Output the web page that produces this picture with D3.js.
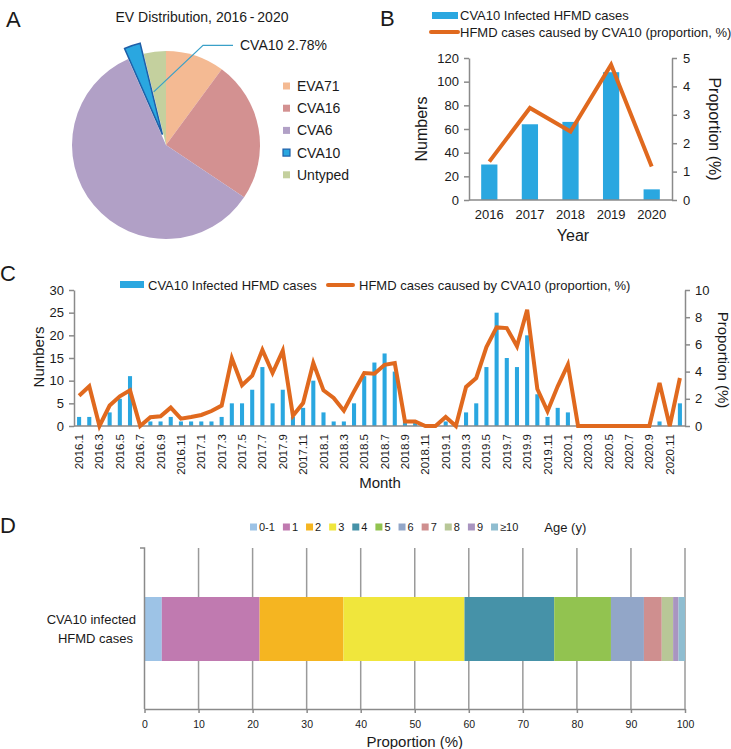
<!DOCTYPE html>
<html>
<head>
<meta charset="utf-8">
<script src="https://cdn.jsdelivr.net/npm/d3@7/dist/d3.min.js"></script>
<style>
  html, body { margin: 0; padding: 0; background: #fff; }
  svg text { font-family: "Liberation Sans", Arial, Helvetica, sans-serif; fill: #1a1a1a; }
</style>
</head>
<body>
<script>
// ---------------- DATA ----------------
const pieCategories = ["EVA71", "CVA16", "CVA6", "CVA10", "Untyped"];
const pieValues = [10.1, 24.3, 59.0, 2.78, 3.82];
const pieColors = ["#F4BA93", "#D39191", "#B1A0C6", "#2AA7E0", "#C4D09E"];

const years = ["2016", "2017", "2018", "2019", "2020"];
const yearCases = [30, 64, 66, 108, 9];
const yearProportion = [1.35, 3.24, 2.41, 4.76, 1.18];
const yearLeftTicks = [0, 20, 40, 60, 80, 100, 120];
const yearRightTicks = [0, 1, 2, 3, 4, 5];

const months = [
  "2016.1","2016.2","2016.3","2016.4","2016.5","2016.6","2016.7","2016.8","2016.9","2016.10","2016.11","2016.12",
  "2017.1","2017.2","2017.3","2017.4","2017.5","2017.6","2017.7","2017.8","2017.9","2017.10","2017.11","2017.12",
  "2018.1","2018.2","2018.3","2018.4","2018.5","2018.6","2018.7","2018.8","2018.9","2018.10","2018.11","2018.12",
  "2019.1","2019.2","2019.3","2019.4","2019.5","2019.6","2019.7","2019.8","2019.9","2019.10","2019.11","2019.12",
  "2020.1","2020.2","2020.3","2020.4","2020.5","2020.6","2020.7","2020.8","2020.9","2020.10","2020.11","2020.12"
];
const monthCases = [
  2, 2, 0, 3, 6, 11, 0, 1, 1, 2, 1, 1,
  1, 1, 2, 5, 5, 8, 13, 5, 8, 2, 4, 10,
  3, 1, 1, 5, 11, 14, 16, 12, 1, 1, 0, 0,
  1, 0, 3, 5, 13, 25, 15, 13, 20, 7, 2, 4,
  3, 0, 0, 0, 0, 0, 0, 0, 0, 1, 0, 5
];
const monthProportion = [
  2.23, 2.92, 0, 1.5, 2.18, 2.62, 0, 0.64, 0.71, 1.35, 0.54, 0.66,
  0.81, 1.1, 1.5, 4.98, 3.0, 3.7, 5.6, 3.9, 5.54, 0.76, 1.69, 4.63,
  2.62, 2.06, 1.13, 2.55, 3.9, 3.85, 4.5, 4.63, 0.34, 0.34, 0, 0,
  0.66, 0, 2.87, 3.53, 5.8, 7.25, 7.2, 5.86, 8.55, 2.72, 1.08, 2.92,
  4.51, 0, 0, 0, 0, 0, 0, 0, 0, 3.16, 0, 3.53
];
const monthLeftTicks = [0, 5, 10, 15, 20, 25, 30];
const monthRightTicks = [0, 2, 4, 6, 8, 10];

const ageGroups = ["0-1", "1", "2", "3", "4", "5", "6", "7", "8", "9", "≥10"];
const ageProportion = [3.2, 18.1, 15.5, 22.4, 16.6, 10.5, 6.1, 3.3, 2.1, 1.0, 1.2];
const ageColors = ["#9DC3E6", "#C07AB0", "#F5B521", "#F0E63C", "#4692A8", "#92C350",
                   "#92A6C8", "#CF8F8F", "#B8C797", "#A995C0", "#8FBDD0"];
const ageTicks = [0, 10, 20, 30, 40, 50, 60, 70, 80, 90, 100];

// ---------------- STYLE ----------------
const BLUE = "#2AA7E0";
const ORANGE = "#E0691E";
const AXIS = "#8a8a8a";
const FONT = "\"Liberation Sans\", Arial, Helvetica, sans-serif";
const intFmt = d3.format("d");

const svg = d3.select("body").append("svg")
  .attr("width", 731).attr("height", 749)
  .style("background", "#fff");

function styleAxis(g, fontSize) {
  g.selectAll(".domain").attr("stroke", AXIS).attr("stroke-width", 1.5);
  g.selectAll(".tick line").attr("stroke", AXIS).attr("stroke-width", 1.5);
  g.selectAll(".tick text").attr("font-size", fontSize).attr("fill", "#1a1a1a")
    .style("font-family", FONT);
}

function panelLabel(t, x, y) {
  svg.append("text").attr("x", x).attr("y", y).attr("font-size", 22).text(t);
}

// ================= PANEL A: PIE =================
panelLabel("A", 6, 27);
svg.append("text").attr("x", 202).attr("y", 22).attr("text-anchor", "middle")
  .attr("font-size", 14).text("EV Distribution, 2016\u2009-\u20092020");

const pieCx = 166, pieCy = 145, pieR = 94, explode = 11;
const pie = d3.pie().sort(null).value(d => d.v).startAngle(0).endAngle(2 * Math.PI);
const pieData = pie(pieCategories.map((c, i) => ({ c, v: pieValues[i], col: pieColors[i] })));
const arc = d3.arc().innerRadius(0).outerRadius(pieR);
const gPie = svg.append("g").attr("transform", `translate(${pieCx},${pieCy})`);

gPie.selectAll("path").data(pieData).join("path")
  .attr("d", arc)
  .attr("fill", d => d.data.col)
  .attr("stroke", d => d.data.c === "CVA10" ? "#1F5FA8" : "none")
  .attr("stroke-width", d => d.data.c === "CVA10" ? 1.5 : 0)
  .attr("transform", d => {
    if (d.data.c !== "CVA10") return null;
    const a = (d.startAngle + d.endAngle) / 2;
    return `translate(${explode * Math.sin(a)},${-explode * Math.cos(a)})`;
  });
gPie.selectAll("path").filter(d => d.data.c === "CVA10").raise();

// leader line for CVA10
const cva = pieData.find(d => d.data.c === "CVA10");
const midA = (cva.startAngle + cva.endAngle) / 2 + 0.1;
const p0 = [pieCx + 0.58 * pieR * Math.sin(midA), pieCy - 0.58 * pieR * Math.cos(midA)];
const elbow = [pieCx + 37, pieCy - 1.06 * pieR];
const p2 = [elbow[0] + 30, elbow[1]];
svg.append("polyline")
  .attr("points", [p0, elbow, p2].map(p => p.join(",")).join(" "))
  .attr("fill", "none").attr("stroke", "#3AA0C8").attr("stroke-width", 1.2);
svg.append("text").attr("x", p2[0] + 7).attr("y", p2[1] + 5).attr("font-size", 14)
  .text(`CVA10 ${pieValues[3].toFixed(2)}%`);

// legend A
const legA = svg.append("g").attr("transform", "translate(283,86)");
pieCategories.forEach((c, i) => {
  const g = legA.append("g").attr("transform", `translate(0,${i * 22.2})`);
  g.append("rect").attr("x", 0).attr("y", -3.5).attr("width", 7).attr("height", 7)
    .attr("fill", pieColors[i])
    .attr("stroke", c === "CVA10" ? "#1F5FA8" : "none").attr("stroke-width", 1.2);
  g.append("text").attr("x", 14).attr("y", 5).attr("font-size", 14).text(c);
});

// ================= PANEL B =================
panelLabel("B", 380, 26);
const bx = d3.scaleBand().domain(years).range([469, 672]).paddingInner(0.6).paddingOuter(0.3);
const byL = d3.scaleLinear().domain([0, 120]).range([200, 58]);
const byR = d3.scaleLinear().domain([0, 5]).range([200, 58]);

svg.append("g").selectAll("rect").data(years).join("rect")
  .attr("x", d => bx(d)).attr("width", bx.bandwidth())
  .attr("y", (d, i) => byL(yearCases[i]))
  .attr("height", (d, i) => byL(0) - byL(yearCases[i]))
  .attr("fill", BLUE);

const gBL = svg.append("g").attr("transform", "translate(469,0)")
  .call(d3.axisLeft(byL).tickValues(yearLeftTicks).tickFormat(intFmt).tickSize(5).tickSizeOuter(0).tickPadding(5));
styleAxis(gBL, 13);
const gBR = svg.append("g").attr("transform", "translate(672,0)")
  .call(d3.axisRight(byR).tickValues(yearRightTicks).tickFormat(intFmt).tickSize(5).tickSizeOuter(0).tickPadding(6));
styleAxis(gBR, 13);
const gBB = svg.append("g").attr("transform", "translate(0,200)")
  .call(d3.axisBottom(bx).tickSize(0).tickSizeOuter(0).tickPadding(10));
styleAxis(gBB, 13);
gBB.select(".domain").attr("d", "M469,0H672");

svg.append("path")
  .datum(years.map((y, i) => [bx(y) + bx.bandwidth() / 2, byR(yearProportion[i])]))
  .attr("d", d3.line())
  .attr("fill", "none").attr("stroke", ORANGE).attr("stroke-width", 4).attr("stroke-linejoin", "miter");

svg.append("text").attr("transform", "translate(427,129) rotate(-90)").attr("text-anchor", "middle")
  .attr("font-size", 16).text("Numbers");
svg.append("text").attr("transform", "translate(709,129) rotate(90)").attr("text-anchor", "middle")
  .attr("font-size", 16).text("Proportion (%)");
svg.append("text").attr("x", 573).attr("y", 241).attr("text-anchor", "middle")
  .attr("font-size", 16).text("Year");

// legend B
svg.append("rect").attr("x", 432).attr("y", 12).attr("width", 26).attr("height", 7).attr("fill", BLUE);
svg.append("text").attr("x", 460).attr("y", 20).attr("font-size", 13).text("CVA10 Infected HFMD cases");
svg.append("line").attr("x1", 431).attr("x2", 458).attr("y1", 32).attr("y2", 32)
  .attr("stroke", ORANGE).attr("stroke-width", 4).attr("stroke-linecap", "round");
svg.append("text").attr("x", 460).attr("y", 37).attr("font-size", 13)
  .text("HFMD cases caused by CVA10 (proportion, %)");

// ================= PANEL C =================
panelLabel("C", 0, 281);
const cx = d3.scaleBand().domain(months).range([74, 685]).paddingInner(0.6).paddingOuter(0.3);
const cyL = d3.scaleLinear().domain([0, 30]).range([426, 290]);
const cyR = d3.scaleLinear().domain([0, 10]).range([426, 290]);

svg.append("g").selectAll("rect").data(months).join("rect")
  .attr("x", d => cx(d)).attr("width", cx.bandwidth())
  .attr("y", (d, i) => cyL(monthCases[i]))
  .attr("height", (d, i) => cyL(0) - cyL(monthCases[i]))
  .attr("fill", BLUE);

const gCL = svg.append("g").attr("transform", "translate(74,0)")
  .call(d3.axisLeft(cyL).tickValues(monthLeftTicks).tickFormat(intFmt).tickSize(5).tickSizeOuter(0).tickPadding(5));
styleAxis(gCL, 13);
const gCR = svg.append("g").attr("transform", "translate(685,0)")
  .call(d3.axisRight(cyR).tickValues(monthRightTicks).tickFormat(intFmt).tickSize(5).tickSizeOuter(0).tickPadding(5));
styleAxis(gCR, 13);
const gCB = svg.append("g").attr("transform", "translate(0,426)")
  .call(d3.axisBottom(cx).tickValues(months.filter((m, i) => i % 2 === 0)).tickSize(0).tickSizeOuter(0));
styleAxis(gCB, 11.5);
gCB.select(".domain").attr("d", "M74,0H685");
gCB.selectAll(".tick text")
  .attr("transform", "rotate(-90)")
  .attr("text-anchor", "end")
  .attr("x", -8).attr("y", 0).attr("dy", "0.35em");

svg.append("path")
  .datum(months.map((m, i) => [cx(m) + cx.bandwidth() / 2, cyR(monthProportion[i])]))
  .attr("d", d3.line())
  .attr("fill", "none").attr("stroke", ORANGE).attr("stroke-width", 4).attr("stroke-linejoin", "miter");

svg.append("text").attr("transform", "translate(44,357) rotate(-90)").attr("text-anchor", "middle")
  .attr("font-size", 15).text("Numbers");
svg.append("text").attr("transform", "translate(718,360) rotate(90)").attr("text-anchor", "middle")
  .attr("font-size", 15).text("Proportion (%)");
svg.append("text").attr("x", 380).attr("y", 488).attr("text-anchor", "middle")
  .attr("font-size", 15).text("Month");

// legend C
svg.append("rect").attr("x", 120).attr("y", 281).attr("width", 24).attr("height", 7).attr("fill", BLUE);
svg.append("text").attr("x", 148).attr("y", 290).attr("font-size", 13).text("CVA10 Infected HFMD cases");
svg.append("line").attr("x1", 328).attr("x2", 353).attr("y1", 285).attr("y2", 285)
  .attr("stroke", ORANGE).attr("stroke-width", 4).attr("stroke-linecap", "round");
svg.append("text").attr("x", 359).attr("y", 290).attr("font-size", 13)
  .text("HFMD cases caused by CVA10 (proportion, %)");

// ================= PANEL D =================
panelLabel("D", 0, 533);
const dx = d3.scaleLinear().domain([0, 100]).range([144.5, 685]);
const dTop = 548, dBottom = 709, barTop = 597, barBottom = 661;

// gridlines
svg.append("g").selectAll("line").data(ageTicks.slice(1)).join("line")
  .attr("x1", d => dx(d)).attr("x2", d => dx(d))
  .attr("y1", dTop).attr("y2", dBottom)
  .attr("stroke", "#9a9a9a").attr("stroke-width", 1.5);

// stacked bar
let cum = 0;
const segs = ageProportion.map((v, i) => { const s = { x0: cum, x1: cum + v, col: ageColors[i] }; cum += v; return s; });
svg.append("g").selectAll("rect").data(segs).join("rect")
  .attr("x", d => dx(d.x0)).attr("width", d => dx(d.x1) - dx(d.x0))
  .attr("y", barTop).attr("height", barBottom - barTop)
  .attr("fill", d => d.col);

// left category axis
svg.append("path").attr("d", `M140,${dTop}H${dx(0)}V${dBottom}`)
  .attr("fill", "none").attr("stroke", AXIS).attr("stroke-width", 1.5);
const gDB = svg.append("g").attr("transform", `translate(0,${dBottom})`)
  .call(d3.axisBottom(dx).tickValues(ageTicks).tickFormat(intFmt).tickSize(4).tickSizeOuter(0).tickPadding(8));
styleAxis(gDB, 10.5);

svg.append("text").attr("x", 136).attr("y", 624).attr("text-anchor", "end").attr("font-size", 13)
  .text("CVA10 infected");
svg.append("text").attr("x", 133).attr("y", 643).attr("text-anchor", "end").attr("font-size", 13)
  .text("HFMD cases");
svg.append("text").attr("x", dx(50)).attr("y", 747).attr("text-anchor", "middle").attr("font-size", 15)
  .text("Proportion (%)");

// legend D
const legD = svg.append("g").attr("transform", "translate(250,527)");
let lx = 0;
ageGroups.forEach((g, i) => {
  legD.append("rect").attr("x", lx).attr("y", -3.5).attr("width", 7).attr("height", 7).attr("fill", ageColors[i]);
  const t = legD.append("text").attr("x", lx + 9).attr("y", 4).attr("font-size", 11).text(g);
  lx += 9 + t.node().getComputedTextLength() + 8;
});
legD.append("text").attr("x", lx + 18).attr("y", 5).attr("font-size", 13).text("Age (y)");
</script>
</body>
</html>
